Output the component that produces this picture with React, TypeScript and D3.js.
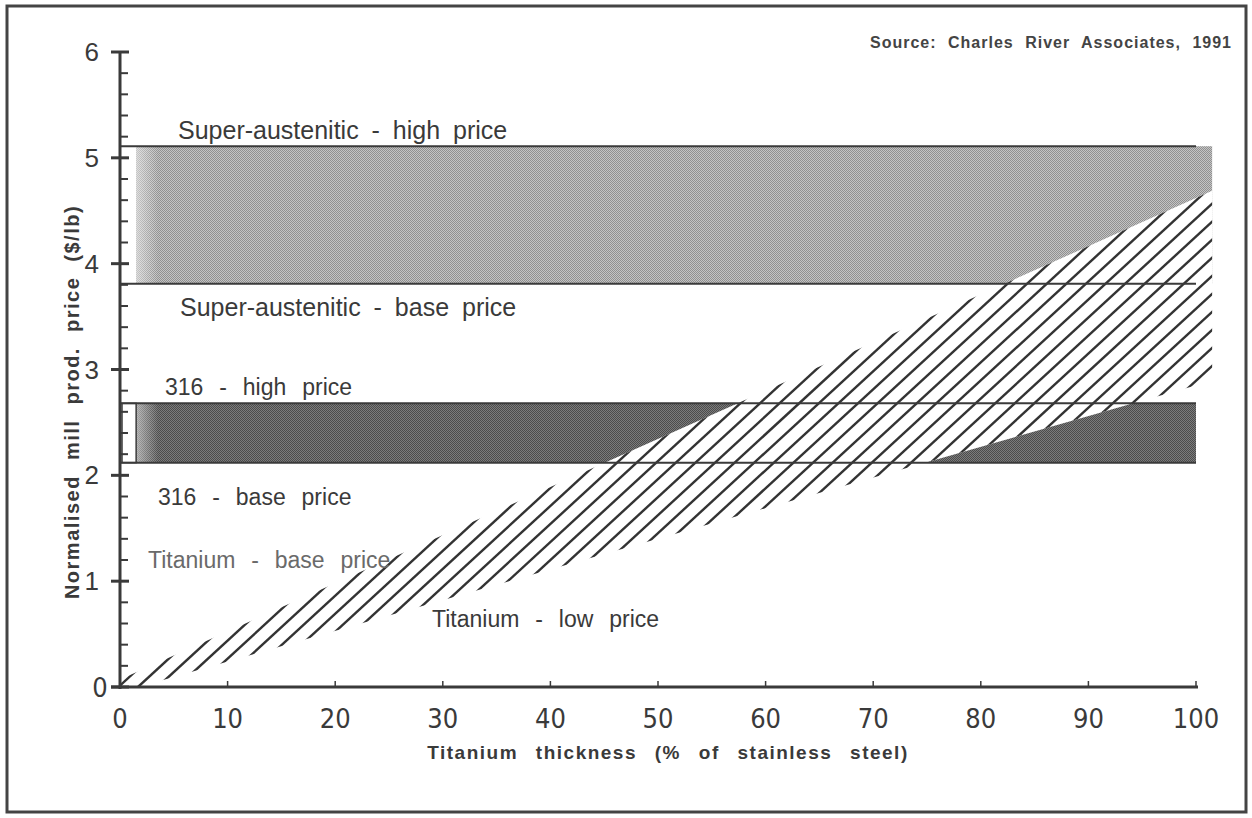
import React from "react";
import * as d3 from "d3";

// ---- data ----
const xTicks = [0, 10, 20, 30, 40, 50, 60, 70, 80, 90, 100];
const yTicks = [0, 1, 2, 3, 4, 5, 6];
const bandNames = ["Super-austenitic", "316"];
const bandBase = [3.81, 2.12];
const bandHigh = [5.11, 2.68];
const bandShadeStart = [1.5, 1.5];
const bandShadeEnd = [101.5, 100];
const titaniumX = [0, 100];
const titaniumBase = [0.07, 4.62];
const titaniumLow = [-0.05, 2.85];
const titaniumEnd = 101.5;
const sourceNote = "Source: Charles River Associates, 1991";
const xTitle = "Titanium thickness (% of stainless steel)";
const yTitle = "Normalised mill prod. price ($/lb)";

const W = 1252;
const H = 818;

export default function App() {
  const x = d3.scaleLinear().domain([0, 100]).range([120, 1196]);
  const y = d3.scaleLinear().domain([0, 6]).range([687, 52]);
  const upper = d3.scaleLinear().domain(titaniumX).range(titaniumBase);
  const lower = d3.scaleLinear().domain(titaniumX).range(titaniumLow);
  const lowerZero = lower.invert(0);

  const minor: number[] = [];
  yTicks.slice(0, -1).forEach((t) => [0.2, 0.4, 0.6, 0.8].forEach((f) => minor.push(t + f)));

  const tiPoly: [number, number][] = [
    [0, Math.max(0, upper(0))],
    [titaniumEnd, upper(titaniumEnd)],
    [titaniumEnd, lower(titaniumEnd)],
    [lowerZero, 0],
    [0, 0],
  ];
  const polyPath = d3.line<[number, number]>().x((d) => x(d[0])).y((d) => y(d[1]))(tiPoly) + "Z";

  const slope = 0.92;
  const spacing = 19.6;
  const hatch: number[] = d3.range(-40, 70).map((k) => 138 + k * spacing);
  const rise = 700;

  const lineColor = "#3a3a3a";
  const textColor = "#3a3a3a";
  const labelFont = "'Liberation Sans', Arial, Helvetica, sans-serif";
  const narrowFont = "'Liberation Sans Narrow', 'DejaVu Sans Condensed', 'Liberation Sans', sans-serif";

  const label316: React.CSSProperties = { wordSpacing: "9.5px" };
  const labelSA: React.CSSProperties = { wordSpacing: "6px" };

  return (
    <svg width={W} height={H} style={{ position: "absolute", left: 0, top: 0, background: "#fff" }}>
      <defs>
        <pattern id="stipLight" width="2" height="2" patternUnits="userSpaceOnUse">
          <rect width="2" height="2" fill="#c4c4c4" />
          <rect width="1" height="1" fill="#909090" />
          <rect x="1" y="1" width="1" height="1" fill="#909090" />
        </pattern>
        <pattern id="stipDark" width="2" height="2" patternUnits="userSpaceOnUse">
          <rect width="2" height="2" fill="#7c7c7c" />
          <rect width="1" height="1" fill="#4c4c4c" />
          <rect x="1" y="1" width="1" height="1" fill="#4c4c4c" />
        </pattern>
        <linearGradient id="fadeL" x1="0" x2="1" y1="0" y2="0">
          <stop offset="0" stopColor="#fff" stopOpacity="0.5" />
          <stop offset="1" stopColor="#fff" stopOpacity="0" />
        </linearGradient>
        <clipPath id="tiClip">
          <path d={polyPath} />
        </clipPath>
      </defs>

      <rect x={0} y={0} width={W} height={H} fill="#fff" />
      {/* frame */}
      <rect x={7} y={6} width={1239} height={806} fill="none" stroke="#444" strokeWidth={3} />

      {/* band shading */}
      {bandNames.map((n, i) => (
        <g key={n}>
          <rect
            x={x(bandShadeStart[i])}
            y={y(bandHigh[i])}
            width={x(bandShadeEnd[i]) - x(bandShadeStart[i])}
            height={y(bandBase[i]) - y(bandHigh[i])}
            fill={i === 0 ? "url(#stipLight)" : "url(#stipDark)"}
          />
          <rect
            x={x(bandShadeStart[i])}
            y={y(bandHigh[i])}
            width={22}
            height={y(bandBase[i]) - y(bandHigh[i])}
            fill="url(#fadeL)"
          />
        </g>
      ))}
      {/* small open box at the left of 316 band */}
      <rect
        x={x(0) + 2}
        y={y(bandHigh[1])}
        width={x(bandShadeStart[1]) - x(0) - 2}
        height={y(bandBase[1]) - y(bandHigh[1])}
        fill="#fff"
        stroke={lineColor}
        strokeWidth={1.5}
      />

      {/* titanium band */}
      <path d={polyPath} fill="#fff" />
      <g clipPath="url(#tiClip)">
        {hatch.map((h, i) => (
          <line
            key={i}
            x1={h}
            y1={y(0)}
            x2={h + rise / slope}
            y2={y(0) - rise}
            stroke="#333"
            strokeWidth={2.4}
          />
        ))}
      </g>

      {/* band boundary lines */}
      {bandNames.map((n, i) => (
        <g key={"l" + n}>
          <line x1={x(0)} x2={x(100)} y1={y(bandHigh[i])} y2={y(bandHigh[i])} stroke={lineColor} strokeWidth={2} />
          <line x1={x(0)} x2={x(100)} y1={y(bandBase[i])} y2={y(bandBase[i])} stroke={lineColor} strokeWidth={2} />
        </g>
      ))}

      {/* axes */}
      <line x1={x(0)} x2={x(0)} y1={y(6) - 1} y2={y(0) + 2} stroke={lineColor} strokeWidth={3} />
      {yTicks.map((t) => (
        <line key={"yt" + t} x1={x(0) - 9} x2={x(0) + 9} y1={y(t)} y2={y(t)} stroke={lineColor} strokeWidth={3} />
      ))}
      {minor.map((t, i) => (
        <line key={"ym" + i} x1={x(0)} x2={x(0) + 8} y1={y(t)} y2={y(t)} stroke={lineColor} strokeWidth={2} />
      ))}
      <line x1={x(0) - 9} x2={x(100) + 2} y1={y(0)} y2={y(0)} stroke={lineColor} strokeWidth={3} />
      {xTicks.slice(1).map((t) => (
        <line key={"xt" + t} x1={x(t)} x2={x(t)} y1={y(0)} y2={y(0) - 6} stroke={lineColor} strokeWidth={1.5} />
      ))}

      {/* tick labels */}
      {yTicks.slice(1).map((t) => (
        <text
          key={"yl" + t}
          x={x(0) - 21}
          y={y(t) + 9}
          textAnchor="end"
          fontFamily={labelFont}
          fontSize={26}
          fill={textColor}
        >
          {t}
        </text>
      ))}
      <text x={x(0) - 20} y={y(0) + 10} textAnchor="middle" fontFamily={narrowFont} fontSize={27} fill={textColor}>
        {yTicks[0]}
      </text>
      {xTicks.map((t) => (
        <text key={"xl" + t} x={x(t)} y={728} textAnchor="middle" fontFamily={narrowFont} fontSize={27} fill={textColor}>
          {t}
        </text>
      ))}

      {/* axis titles */}
      <text
        x={668}
        y={759}
        textAnchor="middle"
        fontFamily={labelFont}
        fontWeight="bold"
        fontSize={19}
        fill={textColor}
        style={{ wordSpacing: "11px", letterSpacing: "1.5px" }}
      >
        {xTitle}
      </text>
      <text
        transform={`translate(79,402) rotate(-90)`}
        textAnchor="middle"
        fontFamily={labelFont}
        fontWeight="bold"
        fontSize={20}
        fill={textColor}
        style={{ wordSpacing: "8px", letterSpacing: "1.5px" }}
      >
        {yTitle}
      </text>

      {/* source */}
      <text
        x={1232}
        y={48}
        textAnchor="end"
        fontFamily={labelFont}
        fontWeight="bold"
        fontSize={16}
        fill="#444"
        style={{ wordSpacing: "6px", letterSpacing: "1px" }}
      >
        {sourceNote}
      </text>

      {/* series labels */}
      <text x={178} y={139} fontFamily={labelFont} fontSize={25} fill={textColor} style={labelSA}>
        {bandNames[0] + " - high price"}
      </text>
      <text x={180} y={316} fontFamily={labelFont} fontSize={25} fill={textColor} style={labelSA}>
        {bandNames[0] + " - base price"}
      </text>
      <text x={165} y={395} fontFamily={labelFont} fontSize={23} fill={textColor} style={label316}>
        {bandNames[1] + " - high price"}
      </text>
      <text x={158} y={505} fontFamily={labelFont} fontSize={23} fill={textColor} style={label316}>
        {bandNames[1] + " - base price"}
      </text>
      <text x={148} y={568} fontFamily={labelFont} fontSize={23} fill="#6a6a6a" style={label316}>
        Titanium - base price
      </text>
      <text x={432} y={627} fontFamily={labelFont} fontSize={23} fill={textColor} style={label316}>
        Titanium - low price
      </text>
    </svg>
  );
}
